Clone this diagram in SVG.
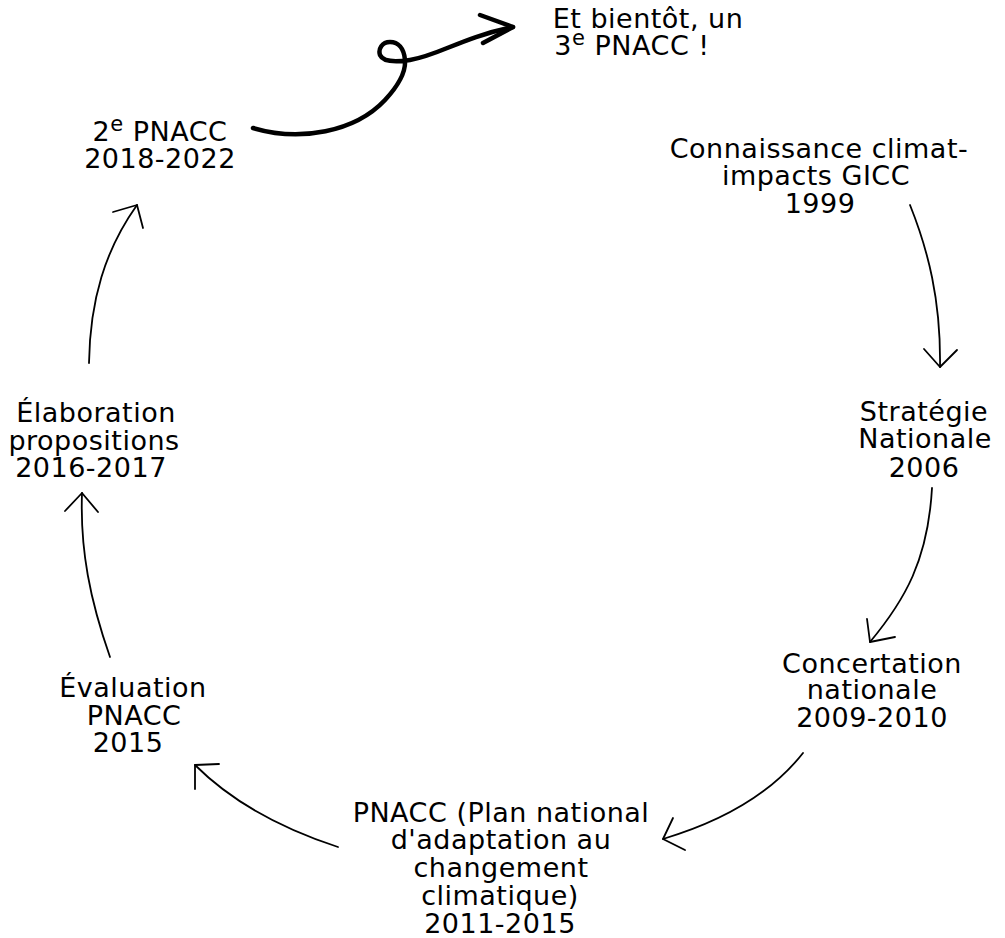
<svg xmlns="http://www.w3.org/2000/svg" width="1005" height="938" viewBox="0 0 1005 938">
<style>
text{font-family:"DejaVu Sans","Noto Sans",sans-serif;font-size:27px;letter-spacing:0.5px;fill:#000;text-anchor:middle}
.sup{font-size:21px}
.c{fill:none;stroke:#000;stroke-width:1.8;stroke-linecap:round;stroke-linejoin:round}
.b{fill:none;stroke:#000;stroke-width:4.5;stroke-linecap:round;stroke-linejoin:round}
</style>
<rect width="1005" height="938" fill="#fff"/>
<g id="n-next"><text x="648" y="28">Et bientôt, un</text><text x="632" y="55">3<tspan class="sup" dy="-10">e</tspan><tspan dy="10"> PNACC !</tspan></text></g>
<g id="n-pnacc2"><text x="160" y="141">2<tspan class="sup" dy="-10">e</tspan><tspan dy="10"> PNACC</tspan></text><text x="160" y="168">2018-2022</text></g>
<g id="n-gicc"><text x="819" y="158">Connaissance climat-</text><text x="816" y="185">impacts GICC</text><text x="820" y="213">1999</text></g>
<g id="n-strat"><text x="924" y="421">Stratégie</text><text x="925" y="448">Nationale</text><text x="924" y="477">2006</text></g>
<g id="n-concert"><text x="872" y="673">Concertation</text><text x="872" y="699">nationale</text><text x="872" y="727">2009-2010</text></g>
<g id="n-pnacc"><text x="501" y="822">PNACC (Plan national</text><text x="501" y="849">d'adaptation au</text><text x="501" y="877">changement</text><text x="500" y="905">climatique)</text><text x="500" y="933">2011-2015</text></g>
<g id="n-eval"><text x="133" y="697">Évaluation</text><text x="134" y="725">PNACC</text><text x="128" y="752">2015</text></g>
<g id="n-elab"><text x="96" y="422">Élaboration</text><text x="94" y="450">propositions</text><text x="91" y="477">2016-2017</text></g>
<g id="connectors">
<path class="c" d="M910,205 C928,250 941,300 940,367"/><path class="c" d="M924,349 L940,367 L957,350"/>
<path class="c" d="M932,488 C928,560 905,600 870,642"/><path class="c" d="M867,619 L870,642 L895,637"/>
<path class="c" d="M803,753 C770,795 720,822 663,839"/><path class="c" d="M673,818 L663,839 L685,850"/>
<path class="c" d="M338,847 C280,828 230,800 195,765"/><path class="c" d="M219,764 L195,765 L195,789"/>
<path class="c" d="M110,657 C90,600 80,550 82,493"/><path class="c" d="M65,511 L82,493 L98,512"/>
<path class="c" d="M89,363 C90,300 105,250 137,205"/><path class="c" d="M113,212 L137,205 L143,228"/>
<path class="b" d="M253,128 C300,142 355,132 385,100 C398,86 406,72 405,60 C404,48 398,42 390,42 C382,42 378,49 380,55 C383,62 397,62 410,60 C440,55 460,38 513,27"/><path class="b" d="M480,15 L513,27 L483,43"/>
</g>
</svg>
